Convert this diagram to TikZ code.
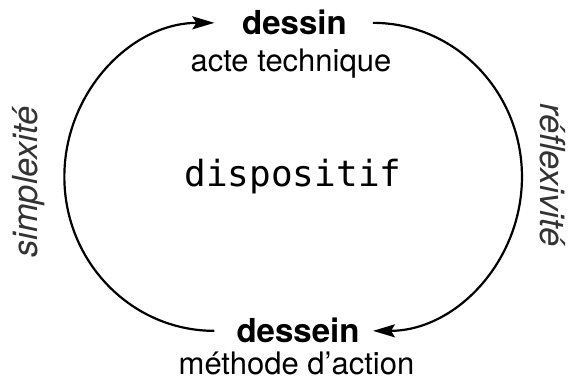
\documentclass[tikz,border=0pt]{standalone}
\usepackage{fontspec}
\setmainfont{TeX Gyre Heros}
\setmonofont{DejaVu Sans Mono}
\usetikzlibrary{arrows.meta}

\begin{document}
\begin{tikzpicture}[x=1pt,y=1pt,
  >={Stealth[length=22pt,width=13pt,inset=4pt]},
  pole/.style={font=\bfseries\fontsize{33}{36}\selectfont,inner sep=0pt,anchor=base},
  sous/.style={font=\fontsize{31}{34}\selectfont,inner sep=0pt,anchor=base},
  cote/.style={font=\itshape\fontsize{34.5}{40}\selectfont,text=black!80,inner sep=0pt,anchor=base},
  boucle/.style={->,line width=2.2pt}]
  \useasboundingbox (0,0) rectangle (568,383);
  \node[pole] (dessin) at (294.5,348) {dessin};
  \node[sous] (acte) at (291,311) {acte technique};
  \node[pole] (dessein) at (298,40) {dessein};
  \node[sous] (methode) at (296.5,8) {méthode d’action};
  \node[font=\ttfamily\fontsize{36}{40}\selectfont,inner sep=0pt,anchor=base] (dispositif) at (293,196) {dispositif};
  \node[cote,rotate=90] (simplexite) at (37,201) {simplexité};
  \node[cote,rotate=-90] (reflexivite) at (540,208) {réflexivité};
  % les deux demi-boucles
  \draw[boucle] (dessein.west) ++(-22,0) arc[start angle=270,end angle=90,x radius=150,y radius=154];
  \draw[boucle] (dessin.east) ++(26,0) arc[start angle=90,end angle=-90,x radius=149,y radius=154];
\end{tikzpicture}
\end{document}
